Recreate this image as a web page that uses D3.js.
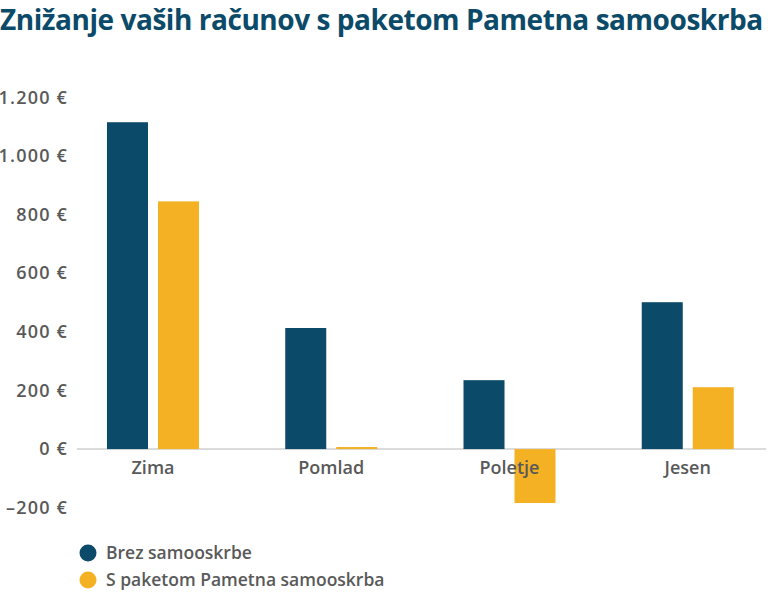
<!DOCTYPE html>
<html><head><meta charset="utf-8">
<script src="https://cdn.jsdelivr.net/npm/d3@7"></script>
<style>body{margin:0;background:#fff}svg{display:block}</style>
</head><body>
<svg id="c" width="768" height="598"></svg>
<script>
const categories = ["Zima", "Pomlad", "Poletje", "Jesen"];
const seriesNames = ["Brez samooskrbe", "S paketom Pametna samooskrba"];
const brezValues = [1115, 413, 235, 501];
const sPaketomValues = [845, 7, -184, 211];
const yTicks = [-200, 0, 200, 400, 600, 800, 1000, 1200];
const yTickLabels = ["–200 €", "0 €", "200 €", "400 €", "600 €", "800 €", "1.000 €", "1.200 €"];
const colors = ["#0b4a68", "#f4b124"];
const title = "Znižanje vaših računov s paketom Pametna samooskrba";

const svg = d3.select("#c");
const font = "'Open Sans', sans-serif";

svg.append("text").attr("x", 0).attr("y", 30)
  .attr("font-family", font).attr("font-weight", 700).attr("font-size", 28)
  .attr("letter-spacing", -0.45)
  .attr("fill", "#0b4a68").text(title);

const y = d3.scaleLinear().domain([-200, 1200]).range([507.7, 97.3]);
const x = d3.scaleBand().domain(categories).range([64, 777]);
const xs = d3.scaleBand().domain(seriesNames).range([43, 135]).paddingInner(0.196);

// baseline
svg.append("line").attr("x1", 77).attr("x2", 766)
  .attr("y1", y(0)).attr("y2", y(0)).attr("stroke", "#cfcfcf").attr("stroke-width", 1.5);

const series = [brezValues, sPaketomValues];
series.forEach((vals, si) => {
  svg.append("g").selectAll("rect").data(vals).join("rect")
    .attr("x", (d, i) => x(categories[i]) + xs(seriesNames[si]))
    .attr("width", xs.bandwidth())
    .attr("y", d => y(Math.max(0, d)))
    .attr("height", d => Math.abs(y(d) - y(0)))
    .attr("fill", colors[si]);
});

// y axis labels
const yAxis = d3.axisLeft(y).tickValues(yTicks).tickSize(0).tickPadding(0)
  .tickFormat((d, i) => yTickLabels[yTicks.indexOf(d)]);
const ya = svg.append("g").attr("transform", "translate(68,0)").call(yAxis);
ya.select(".domain").remove();
ya.selectAll("text").attr("font-family", font).attr("font-size", 18)
  .attr("fill", "#595959").attr("font-weight", 600).attr("letter-spacing", 1.2);

// x axis labels
const xAxis = d3.axisBottom(x).tickSize(0).tickPadding(0);
const xa = svg.append("g").attr("transform", `translate(${xs.range()[0] + (xs.range()[1]-xs.range()[0])/2 - x.bandwidth()/2},${y(0)})`).call(xAxis);
xa.select(".domain").remove();
xa.selectAll("text").attr("font-family", font).attr("font-size", 18)
  .attr("fill", "#595959").attr("font-weight", 600).attr("dy", "1.4em");

// legend
const lg = svg.append("g").selectAll("g").data(seriesNames).join("g")
  .attr("transform", (d, i) => `translate(88,${553 + i * 27})`);
lg.append("circle").attr("r", 8.5).attr("fill", (d, i) => colors[i]);
lg.append("text").attr("x", 18).attr("dy", "0.35em")
  .attr("font-family", font).attr("font-size", 17.5).attr("fill", "#595959").attr("font-weight", 600)
  .text(d => d);
</script>
</body></html>
